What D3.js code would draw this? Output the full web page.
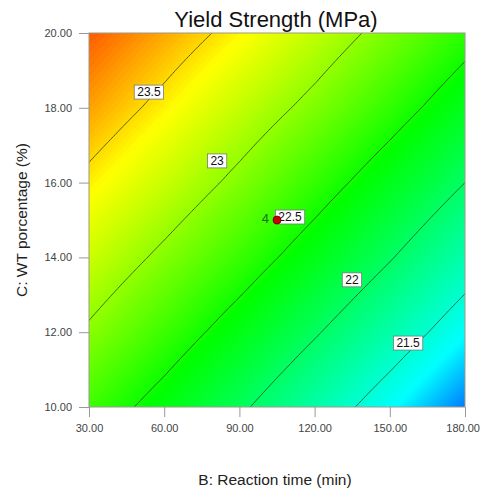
<!DOCTYPE html>
<html><head><meta charset="utf-8">
<script src="https://cdn.jsdelivr.net/npm/d3@7"></script>
<style>body{margin:0;background:#fff;} svg{display:block;font-family:Arial,"Liberation Sans",sans-serif;}</style>
</head><body><svg id="chart" width="480" height="488"></svg>
<script>
// ---- data ----
const bTicks = [30, 60, 90, 120, 150, 180];          // B: Reaction time (min)
const cTicks = [10, 12, 14, 16, 18, 20];             // C: WT porcentage (%)
// Yield strength (MPa) at grid nodes, one array per C level, values along B
const yieldC10 = [22.68, 22.38, 22.05, 21.70, 21.33, 20.94];
const yieldC12 = [22.96, 22.67, 22.36, 22.03, 21.69, 21.32];
const yieldC14 = [23.21, 22.94, 22.66, 22.35, 22.02, 21.67];
const yieldC16 = [23.44, 23.20, 22.93, 22.64, 22.33, 22.00];
const yieldC18 = [23.66, 23.43, 23.18, 22.92, 22.63, 22.32];
const yieldC20 = [23.85, 23.64, 23.42, 23.17, 22.90, 22.61];
const contourLevels = [21.5, 22, 22.5, 23, 23.5];
const levelLabels = ["21.5", "22", "22.5", "23", "23.5"];
const labelB = [157.3, 134.9, 110.2, 81.1, 53.9];
const labelC = [11.71, 13.40, 15.08, 16.58, 18.42];
const designB = [105];
const designC = [15];
const designCount = ["4"];

// ---- layout ----
const svg = d3.select("#chart");
const L = 89, R = 465, T = 33, B = 407;
const x = d3.scaleLinear().domain([30, 180]).range([L, R]);
const y = d3.scaleLinear().domain([10, 20]).range([B, T]);
const color = d3.scaleLinear()
  .domain([20.6, 21.3, 22.45, 23.4, 24.1])
  .range(["#0000ff", "#00ffff", "#00ff00", "#ffff00", "#ff0000"]);

const grid = [yieldC10, yieldC12, yieldC14, yieldC16, yieldC18, yieldC20];
function lerp1(ticks, v) {
  let k = Math.floor((v - ticks[0]) / (ticks[1] - ticks[0]));
  k = Math.max(0, Math.min(ticks.length - 2, k));
  return [k, (v - ticks[k]) / (ticks[k + 1] - ticks[k])];
}
function surface(bv, cv) {
  const [i, s] = lerp1(bTicks, bv), [j, t] = lerp1(cTicks, cv);
  const a = grid[j][i], b = grid[j][i + 1], c = grid[j + 1][i], d = grid[j + 1][i + 1];
  return (a * (1 - s) + b * s) * (1 - t) + (c * (1 - s) + d * s) * t;
}
// fine table for the contour generator (padded one step outside the plot)
const nx = 153, ny = 153, dB = 150 / 150, dC = 10 / 150;
const values = new Array(nx * ny);
for (let j = 0; j < ny; j++) for (let i = 0; i < nx; i++)
  values[j * nx + i] = surface(29 + i * dB, 10 + (j - 1) * dC);

const proj = d3.geoTransform({
  point: function (u, v) { this.stream.point(x(29 + u * dB), y(10 + (v - 1) * dC)); }
});
const path = d3.geoPath(proj);

svg.append("defs").append("clipPath").attr("id", "plotClip")
  .append("rect").attr("x", L).attr("y", T).attr("width", R - L).attr("height", B - T);

const plot = svg.append("g").attr("clip-path", "url(#plotClip)");
const fillSteps = d3.range(20.80, 24.0, 0.02);
plot.append("g").selectAll("path")
  .data(d3.contours().size([nx, ny]).thresholds(fillSteps)(values))
  .join("path")
  .attr("d", path)
  .attr("fill", d => color(d.value + 0.01))
  .attr("stroke", d => color(d.value + 0.01))
  .attr("stroke-width", 0.3);

plot.append("g").selectAll("path")
  .data(d3.contours().size([nx, ny]).thresholds(contourLevels)(values))
  .join("path")
  .attr("d", path)
  .attr("fill", "none")
  .attr("stroke", "#2a3a20")
  .attr("stroke-opacity", 0.85)
  .attr("stroke-width", 0.9);

// frame
svg.append("rect").attr("x", L).attr("y", T).attr("width", R - L).attr("height", B - T)
  .attr("fill", "none").attr("stroke", "#9a9a8a").attr("stroke-width", 1);

// axes
const fmt = d3.format(".2f");
const xAxis = svg.append("g").attr("transform", `translate(0,${B})`)
  .call(d3.axisBottom(x).tickValues(bTicks).tickFormat(fmt).tickSize(10).tickPadding(7));
const yAxis = svg.append("g").attr("transform", `translate(${L},0)`)
  .call(d3.axisLeft(y).tickValues(cTicks).tickFormat(fmt).tickSize(10).tickPadding(7));
[xAxis, yAxis].forEach(g => {
  g.select(".domain").remove();
  g.selectAll(".tick line").attr("stroke", "#999");
  g.selectAll(".tick text").attr("fill", "#444").attr("font-size", 11)
    .attr("font-family", "Arial, 'Liberation Sans', sans-serif");
});
// keep the last x label inside the window
xAxis.selectAll(".tick text").filter(d => d === 180).attr("text-anchor", "end").attr("x", 14.5);

// contour labels
const lab = svg.append("g");
contourLevels.forEach((lv, k) => {
  const cx = x(labelB[k]), cy = y(labelC[k]);
  const t = lab.append("text").attr("x", cx).attr("y", cy + 4.3)
    .attr("text-anchor", "middle").attr("font-size", 12).attr("fill", "#111")
    .text(levelLabels[k]);
  const w = t.node().getComputedTextLength() + 6;
  lab.insert("rect", "text").attr("x", cx - w / 2).attr("y", cy - 7).attr("width", w).attr("height", 14)
    .attr("fill", "#fff").attr("stroke", "#777").attr("stroke-width", 0.8);
});

// design points
designB.forEach((bv, k) => {
  svg.append("circle").attr("cx", x(bv)).attr("cy", y(designC[k])).attr("r", 4)
    .attr("fill", "#cc0000").attr("stroke", "#5a0000").attr("stroke-width", 0.8);
  svg.append("text").attr("x", x(bv) - 8).attr("y", y(designC[k]) + 3)
    .attr("text-anchor", "end").attr("font-size", 13).attr("fill", "#1f6a1f")
    .text(designCount[k]);
});

// titles
svg.append("text").attr("x", 276).attr("y", 27).attr("text-anchor", "middle")
  .attr("font-size", 22).attr("fill", "#111").text("Yield Strength (MPa)");
svg.append("text").attr("x", 275).attr("y", 485).attr("text-anchor", "middle")
  .attr("font-size", 15.5).attr("fill", "#222").text("B: Reaction time (min)");
svg.append("text").attr("transform", "translate(27,220) rotate(-90)").attr("text-anchor", "middle")
  .attr("font-size", 15.5).attr("fill", "#222").text("C: WT porcentage (%)");
</script></body></html>
